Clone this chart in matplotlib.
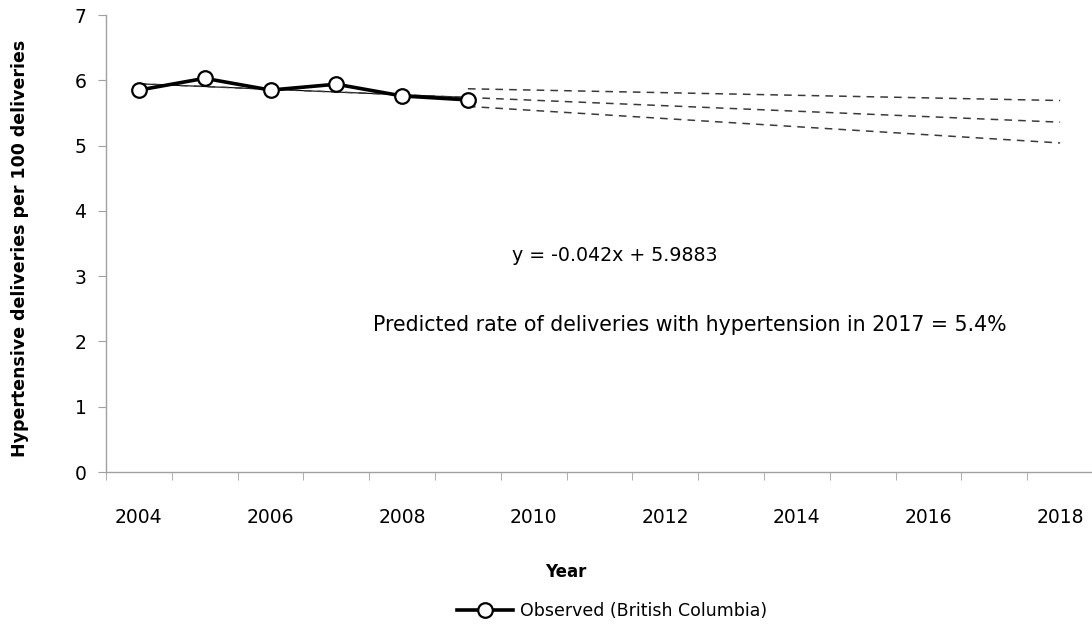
import matplotlib
matplotlib.use("Agg")
import matplotlib.pyplot as plt
from matplotlib.lines import Line2D

# ---- data ----
years = [2004, 2005, 2006, 2007, 2008, 2009]
observed = [5.85, 6.03, 5.85, 5.94, 5.76, 5.70]
trend_slope = -0.042
trend_intercept = 5.9883
forecast_years = [2009, 2018]
forecast_upper = [5.87, 5.69]
forecast_lower = [5.60, 5.04]
xtick_years = [2004, 2006, 2008, 2010, 2012, 2014, 2016, 2018]
yticks = [0, 1, 2, 3, 4, 5, 6, 7]
eq_text = "y = -0.042x + 5.9883"
pred_text = "Predicted rate of deliveries with hypertension in 2017 = 5.4%"
legend_label = "Observed (British Columbia)"
xlabel = "Year"
ylabel = "Hypertensive deliveries per 100 deliveries"

plt.rcParams['font.family'] = ['DejaVu Sans']

W, H = 1092, 628
fig = plt.figure(figsize=(W / 100, H / 100), dpi=100)
ax = fig.add_axes([106 / W, 1 - 472 / H, (1093 - 106) / W, (472 - 15) / H])

def trend(yr):
    return trend_intercept + trend_slope * (yr - 2003)

# thin trend line over observed period
ax.plot([years[0], years[-1]], [trend(years[0]), trend(years[-1])],
        color='black', lw=0.8, zorder=2)
# dashed forecast lines
dash = dict(color='#3a3a3a', lw=1.1, linestyle=(0, (5, 4)), zorder=2)
ax.plot([years[0], forecast_years[1]], [trend(years[0]), trend(forecast_years[1])], **dash)
ax.plot(forecast_years, forecast_upper, **dash)
ax.plot(forecast_years, forecast_lower, **dash)

# observed series
ax.plot(years, observed, color='black', lw=2.6, marker='o', markersize=10.5,
        markerfacecolor='white', markeredgecolor='black', markeredgewidth=1.6, zorder=3)

ax.set_xlim(2003.5, 2018.5)
ax.set_ylim(0, 7)
ax.set_yticks(yticks)
ax.set_xticks(xtick_years)
ax.set_xticks([y + 0.5 for y in range(2003, 2019)], minor=True)
ax.tick_params(axis='x', which='major', length=0, pad=26, labelsize=13.5)
ax.tick_params(axis='x', which='minor', length=6, color='#a0a0a0', direction='out')
ax.tick_params(axis='y', length=6, color='#a0a0a0', direction='out', pad=8, labelsize=13.5)

for s in ['top', 'right']:
    ax.spines[s].set_visible(False)
for s in ['left', 'bottom']:
    ax.spines[s].set_color('#a0a0a0')
    ax.spines[s].set_linewidth(1.0)

fig.text(566 / W, 1 - 572 / H, xlabel, ha='center', va='center', fontsize=12, fontweight='bold')
fig.text(20 / W, 1 - 248 / H, ylabel, ha='center', va='center', rotation=90,
         fontsize=12.5, fontweight='bold')

fig.text(512 / W, 1 - 255 / H, eq_text, ha='left', va='center', fontsize=13.7)
fig.text(373 / W, 1 - 325 / H, pred_text, ha='left', va='center', fontsize=14.8)

handle = Line2D([], [], color='black', lw=2.6, marker='o', markersize=10.5,
                markerfacecolor='white', markeredgecolor='black', markeredgewidth=1.6)
fig.legend([handle], [legend_label], loc='center', bbox_to_anchor=(612 / W, 1 - 611 / H),
           frameon=False, fontsize=12.5, handlelength=3.2, handletextpad=0.4,
           borderpad=0, borderaxespad=0)

fig.savefig('out.png', dpi=100)
